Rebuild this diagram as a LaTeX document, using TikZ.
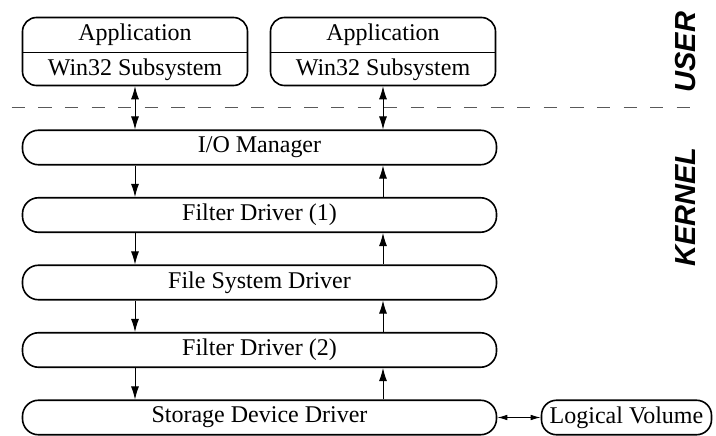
\documentclass[tikz,border=0pt]{standalone}
\usepackage{fontspec}
\setmainfont{Liberation Serif}
\newfontfamily\modefont{Liberation Sans}
\usetikzlibrary{arrows.meta}
\begin{document}
\begin{tikzpicture}[x=1pt,y=-1pt,
  every node/.style={font=\fontsize{24}{28}\selectfont, inner sep=0pt},
  box/.style={draw, line width=1.6pt, rounded corners=16pt, minimum height=34.5pt},
  layer/.style={box, minimum width=474pt},
  appbox/.style={draw, line width=1.6pt, rounded corners=14pt, minimum width=225pt, minimum height=68pt},
  flow/.style={line width=0.9pt, -{Latex[length=13pt,width=8pt]}},
  both/.style={line width=0.9pt, {Latex[length=13pt,width=8pt]}-{Latex[length=13pt,width=8pt]}},
  side/.style={line width=0.9pt, {Latex[length=10pt,width=5.5pt]}-{Latex[length=10pt,width=5.5pt]}},
  mode/.style={font=\modefont\bfseries\itshape\fontsize{29}{32}\selectfont, rotate=90}]
\useasboundingbox (0,0) rectangle (716,436);

% user-mode applications
\node[appbox] (app1) at (135,51.5) {};
\node[appbox] (app2) at (383,51.5) {};
\draw[line width=1.6pt] (app1.west |- 0,52.5) -- (app1.east |- 0,52.5);
\draw[line width=1.6pt] (app2.west |- 0,52.5) -- (app2.east |- 0,52.5);
\node (a1t) at (135,35) {Application};
\node (a1b) at (135,69.5) {Win32 Subsystem};
\node (a2t) at (383,35) {Application};
\node (a2b) at (383,69.5) {Win32 Subsystem};

% user / kernel boundary
\coordinate (bl) at (11.7,108);
\coordinate (br) at (700,108);
\draw[black!65, line width=1pt, dash pattern=on 13.3pt off 13.3pt] (bl) -- (br);
\node[mode] (user) at (686,52) {USER};
\node[mode] (kernel) at (686,207) {KERNEL};

% kernel driver stack
\node[layer] (io) at (259.5,147.5) {I/O Manager};
\node[layer] (f1) at (259.5,215) {Filter Driver (1)};
\node[layer] (fs) at (259.5,282.5) {File System Driver};
\node[layer] (f2) at (259.5,350) {Filter Driver (2)};
\node[layer] (sd) at (259.5,417.5) {Storage Device Driver};
\node[box, minimum width=170pt, rounded corners=15pt] (lv) at (626.5,417.5) {Logical Volume};

% requests travelling through the stack
\draw[both] (app1.south) -- (app1.south |- io.north);
\draw[both] (app2.south) -- (app2.south |- io.north);
\foreach \a/\b in {io/f1, f1/fs, fs/f2, f2/sd} {
  \draw[flow] (\a.south -| app1.south) -- (\b.north -| app1.south);
  \draw[flow] (\b.north -| app2.south) -- (\a.south -| app2.south);
}
\draw[side] (sd.east) -- (lv.west);
\end{tikzpicture}
\end{document}
